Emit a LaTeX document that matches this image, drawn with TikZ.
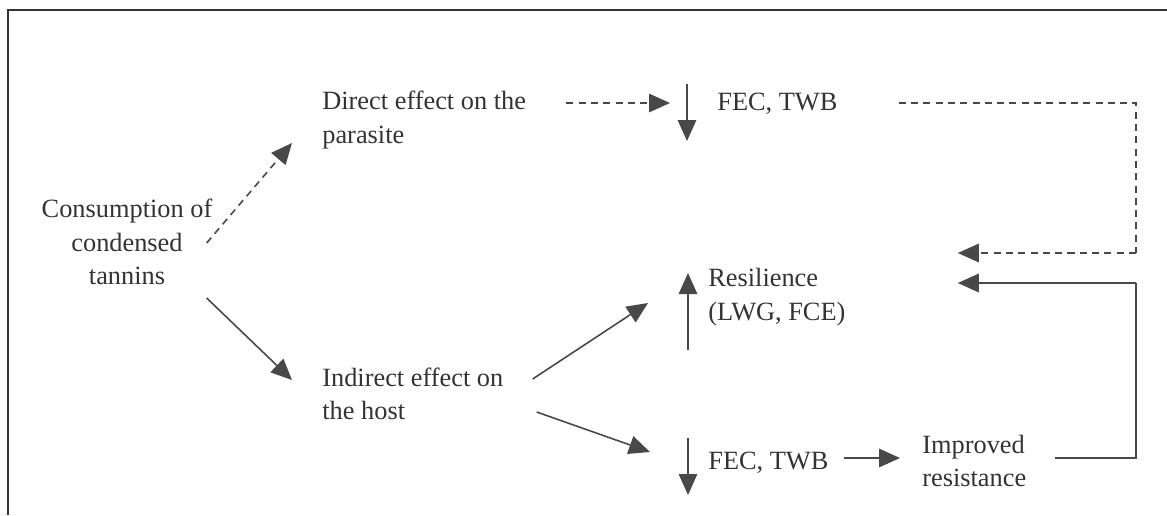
\documentclass[tikz,border=0pt]{standalone}
\usepackage{fontspec}
\setmainfont{Liberation Serif}
\usetikzlibrary{arrows.meta}
\definecolor{ink}{HTML}{333333}
\definecolor{arrowgray}{HTML}{484848}

\begin{document}
\begin{tikzpicture}[x=0.02cm, y=-0.02cm,
    lbl/.style={inner sep=0pt, text=ink, font=\fontsize{15pt}{19pt}\selectfont},
    arr/.style={draw=arrowgray, line width=0.9pt, -{Triangle[length=0.42cm,width=0.37cm]}},
    dasharr/.style={arr, dash pattern=on 4pt off 3pt},
    feedback/.style={draw=arrowgray, line width=0.9pt}]
    \useasboundingbox (0,0) rectangle (1167,515);
    \draw[ink, line width=1.1pt] (8,515) -- (8,10) -- (1167,10);
    % Labels
    \node[lbl, align=center] (cons) at (127,242) {Consumption of\\condensed\\tannins};
    \node[lbl, align=left, anchor=west] (direct) at (322,120) {Direct effect on the\\parasite};
    \node[lbl, align=left, anchor=west] (indirect) at (322,394) {Indirect effect on\\the host};
    \node[lbl, anchor=west] (fecA) at (717,104) {FEC, TWB};
    \node[lbl, align=left, anchor=west] (resil) at (708,297) {Resilience\\(LWG, FCE)};
    \node[lbl, anchor=west] (fecB) at (708,463) {FEC, TWB};
    \node[lbl, align=left, anchor=west] (improv) at (922,461) {Improved\\resistance};
    % Up / down marks
    \draw[arr] ([shift={(-30,-20)}]fecA.west) -- ++(0,57);
    \draw[arr] ([shift={(-20,53)}]resil.west) -- ++(0,-77);
    \draw[arr] ([shift={(-20,-25)}]fecB.west) -- ++(0,57);
    % Effects of tannins
    \draw[dasharr] ([shift={(-6,1)}]cons.east) -- ([shift={(-30,23)}]direct.west);
    \draw[arr] ([shift={(-6,56)}]cons.east) -- ([shift={(-30,-14)}]indirect.west);
    \draw[dasharr] ([shift={(40,-17)}]direct.east) -- ([shift={(-47,-1)}]fecA.west);
    \draw[arr] ([shift={(29,-15)}]indirect.east) -- ([shift={(-60,6)}]resil.west);
    \draw[arr] ([shift={(33,18)}]indirect.east) -- ([shift={(-58,-11)}]fecB.west);
    \draw[arr] ([shift={(15,-5)}]fecB.east) -- ([shift={(-22,-3)}]improv.west);
    % Feedback to resilience
    \coordinate (rail) at (1136,0);
    \path ([shift={(112,-44)}]resil.east) coordinate (fbdash);
    \path ([shift={(112,-14)}]resil.east) coordinate (fbsolid);
    \draw[feedback, dash pattern=on 4pt off 3pt] ([shift={(61,-1)}]fecA.east) -| (rail |- fbdash);
    \draw[dasharr] (rail |- fbdash) -- (fbdash);
    \draw[feedback] ([shift={(28,-3)}]improv.east) -| (rail |- fbsolid);
    \draw[arr] (rail |- fbsolid) -- (fbsolid);
\end{tikzpicture}
\end{document}
